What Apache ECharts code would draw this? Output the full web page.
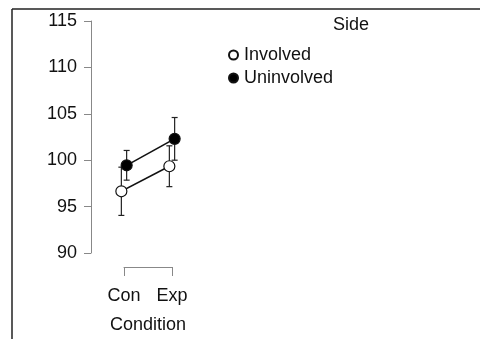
<!DOCTYPE html>
<html>
<head>
<meta charset="utf-8">
<script src="https://cdn.jsdelivr.net/npm/echarts@6/dist/echarts.min.js"></script>
<style>html,body{margin:0;padding:0;background:#fff;}#c{width:480px;height:339px;}</style>
</head>
<body>
<div id="c"></div>
<script>
var categories = ['Con', 'Exp'];
var seriesNames = ['Involved', 'Uninvolved'];
var involvedMean = [96.65, 99.35];
var involvedErr = [2.6, 2.2];
var uninvolvedMean = [99.45, 102.3];
var uninvolvedErr = [1.6, 2.3];
var yTicks = [90, 95, 100, 105, 110, 115];

var dodge = 0.055;
var FONT = 'Liberation Sans, Arial, sans-serif';

function pts(means, off) {
  return means.map(function (m, i) { return [i + 1 + off, m]; });
}
function errs(means, es, off) {
  return means.map(function (m, i) { return [i + 1 + off, m - es[i], m + es[i]]; });
}

function errRender(params, api) {
  var x = api.value(0), lo = api.value(1), hi = api.value(2);
  var pLo = api.coord([x, lo]), pHi = api.coord([x, hi]);
  var cw = 3;
  var st = { stroke: '#222', lineWidth: 1.2 };
  return {
    type: 'group',
    children: [
      { type: 'line', shape: { x1: pLo[0], y1: pLo[1], x2: pHi[0], y2: pHi[1] }, style: st },
      { type: 'line', shape: { x1: pLo[0] - cw, y1: pLo[1], x2: pLo[0] + cw, y2: pLo[1] }, style: st },
      { type: 'line', shape: { x1: pHi[0] - cw, y1: pHi[1], x2: pHi[0] + cw, y2: pHi[1] }, style: st }
    ]
  };
}

var chart = echarts.init(document.getElementById('c'), null, { renderer: 'canvas' });
chart.setOption({
  animation: false,
  backgroundColor: '#fff',
  textStyle: { fontFamily: FONT },
  title: {
    text: 'Side', left: 328, top: 11,
    textStyle: { fontFamily: FONT, fontSize: 18, fontWeight: 'normal', color: '#111' }
  },
  legend: {
    orient: 'vertical', left: 223, top: 41,
    itemWidth: 9, itemHeight: 9, itemGap: 5,
    icon: 'circle',
    data: seriesNames,
    textStyle: { fontFamily: FONT, fontSize: 18, lineHeight: 18, color: '#111', padding: [0, 0, 0, 1] }
  },
  grid: { left: 124, width: 48, top: 21, height: 239 },
  xAxis: {
    type: 'value', min: 1, max: 2, interval: 1,
    offset: 14,
    splitLine: { show: false },
    axisLine: { show: true, lineStyle: { color: '#888', width: 1 } },
    axisTick: { show: true, length: 9, lineStyle: { color: '#888', width: 1 } },
    axisLabel: {
      margin: 20, fontSize: 18, color: '#111', fontFamily: FONT,
      formatter: function (v) { return categories[Math.round(v) - 1] || ''; }
    },
    name: 'Condition', nameLocation: 'middle', nameGap: 49,
    nameTextStyle: { fontSize: 18, color: '#111', fontFamily: FONT }
  },
  yAxis: {
    type: 'value', min: yTicks[0], max: yTicks[yTicks.length - 1], interval: 5,
    offset: 33,
    splitLine: { show: false },
    axisLine: { show: true, lineStyle: { color: '#888', width: 1 } },
    axisTick: { show: true, length: 7, lineStyle: { color: '#888', width: 1 } },
    axisLabel: { margin: 14, fontSize: 18, color: '#111', fontFamily: FONT }
  },
  graphic: [
    { type: 'line', shape: { x1: 12, y1: 9, x2: 12, y2: 339 }, style: { stroke: '#222', lineWidth: 1.5 } },
    { type: 'line', shape: { x1: 12, y1: 9, x2: 480, y2: 9 }, style: { stroke: '#222', lineWidth: 1.5 } }
  ],
  series: [
    {
      type: 'custom', renderItem: errRender, clip: false, z: 1, silent: true,
      data: errs(involvedMean, involvedErr, -dodge)
    },
    {
      type: 'custom', renderItem: errRender, clip: false, z: 1, silent: true,
      data: errs(uninvolvedMean, uninvolvedErr, dodge)
    },
    {
      name: 'Involved', type: 'line', clip: false, z: 3,
      data: pts(involvedMean, -dodge),
      symbol: 'circle', symbolSize: 11,
      lineStyle: { color: '#111', width: 1.5 },
      itemStyle: { color: '#fff', borderColor: '#111', borderWidth: 1.2 }
    },
    {
      name: 'Uninvolved', type: 'line', clip: false, z: 3,
      data: pts(uninvolvedMean, dodge),
      symbol: 'circle', symbolSize: 11,
      lineStyle: { color: '#111', width: 1.5 },
      itemStyle: { color: '#000', borderColor: '#111', borderWidth: 1.2 }
    }
  ]
});
</script>
</body>
</html>
